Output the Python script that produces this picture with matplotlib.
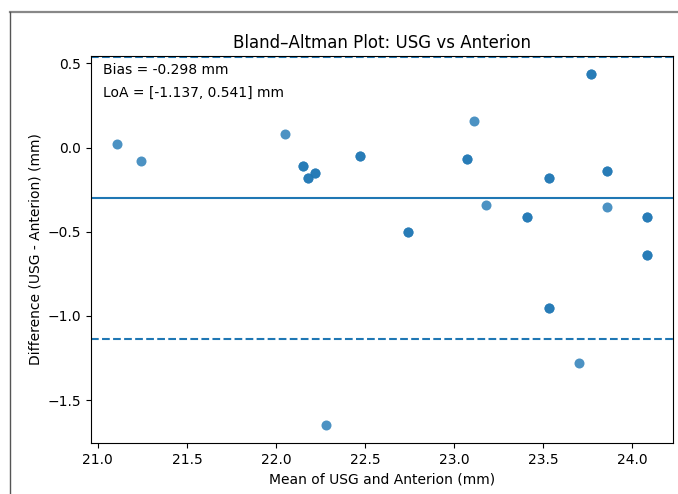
import matplotlib
matplotlib.use("Agg")
import matplotlib.pyplot as plt
from matplotlib.lines import Line2D
import numpy as np

# Mean of USG and Anterion (mm); duplicated observations listed twice
mean_vals = [21.11, 21.24, 22.05, 22.15, 22.15, 22.18, 22.18, 22.22, 22.22,
             22.47, 22.47, 22.28, 22.74, 22.74, 23.07, 23.07, 23.11, 23.18,
             23.41, 23.41, 23.53, 23.53, 23.53, 23.53, 23.70, 23.77, 23.77,
             23.86, 23.86, 23.86, 24.08, 24.08, 24.08, 24.08]
# Difference USG - Anterion (mm)
diff_vals = [0.02, -0.08, 0.08, -0.11, -0.11, -0.18, -0.18, -0.15, -0.15,
             -0.05, -0.05, -1.65, -0.50, -0.50, -0.07, -0.07, 0.16, -0.34,
             -0.41, -0.41, -0.18, -0.18, -0.95, -0.95, -1.28, 0.44, 0.44,
             -0.14, -0.14, -0.35, -0.41, -0.41, -0.64, -0.64]

bias = -0.298
loa_low = -1.137
loa_high = 0.541

fig = plt.figure(figsize=(6.78, 4.94), dpi=100)
ax = fig.add_axes([91/678, 1 - 443/494, (673-91)/678, (443-56)/494])

ax.scatter(mean_vals, diff_vals, alpha=0.8, color="#1f77b4", s=52, linewidths=0)
ax.axhline(bias, color="#1f77b4", linestyle="-", linewidth=1.5)
ax.axhline(loa_low, color="#1f77b4", linestyle="--", linewidth=1.5)
ax.axhline(loa_high, color="#1f77b4", linestyle="--", linewidth=1.5)

x_arr = np.array(mean_vals)
y_arr = np.array(diff_vals)
xr = x_arr.max() - x_arr.min()
yr = y_arr.max() - y_arr.min()
ax.set_xlim(x_arr.min() - 0.05 * xr, x_arr.max() + 0.05 * xr)
ax.set_ylim(y_arr.min() - 0.05 * yr, y_arr.max() + 0.05 * yr)
ax.set_xticks([21.0, 21.5, 22.0, 22.5, 23.0, 23.5, 24.0])
ax.set_yticks([-1.5, -1.0, -0.5, 0.0, 0.5])

ax.text(0.02, 0.964, f"Bias = {bias:.3f} mm", transform=ax.transAxes,
        fontsize=10, va="center", ha="left")
ax.text(0.02, 0.905, f"LoA = [{loa_low:.3f}, {loa_high:.3f}] mm", transform=ax.transAxes,
        fontsize=10, va="center", ha="left")

ax.set_title("Bland\u2013Altman Plot: USG vs Anterion", fontsize=12)
ax.set_xlabel("Mean of USG and Anterion (mm)", fontsize=10)
ax.set_ylabel("Difference (USG - Anterion) (mm)", fontsize=10)
ax.tick_params(labelsize=10)

# screenshot frame
fig.add_artist(Line2D([10/678, 1], [1 - 12.5/494, 1 - 12.5/494], color="#888888",
                      linewidth=1.6, transform=fig.transFigure))
fig.add_artist(Line2D([10/678, 10/678], [0, 1 - 12.5/494], color="#555555",
                      linewidth=1.0, transform=fig.transFigure))

fig.savefig("out.png", dpi=100)
